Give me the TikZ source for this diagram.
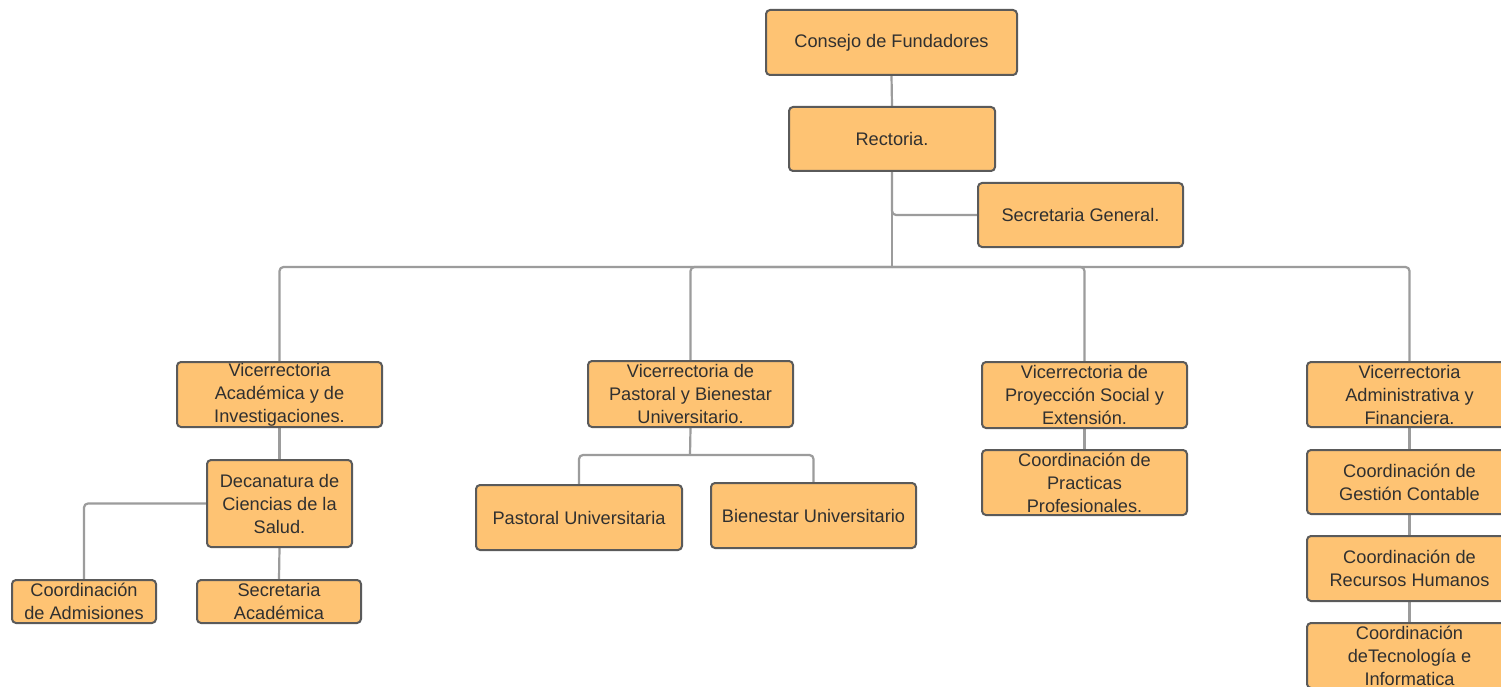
\documentclass[tikz,border=0pt]{standalone}
\usepackage{fontspec}
\setmainfont{Liberation Sans}
\usetikzlibrary{backgrounds}
\definecolor{boxfill}{HTML}{FEC373}
\definecolor{boxline}{HTML}{5A5A5A}
\definecolor{connline}{HTML}{9C9C9C}
\definecolor{txt}{HTML}{303030}
\begin{document}
\begin{tikzpicture}[x=1pt,y=-1pt,
  box/.style={draw=boxline, fill=boxfill, line width=2pt, rounded corners=4pt,
    rectangle, inner sep=0pt, align=center, text=txt,
    font=\fontsize{18.2}{23}\selectfont, minimum width=205, minimum height=65},
  conn/.style={draw=connline, line width=2.2pt, rounded corners=4pt}]
\useasboundingbox (0,0) rectangle (1501,687);
% coordinates
\coordinate (hub) at (892,267);
\coordinate (ph) at (690,455);
% nodes
\node[box, minimum width=251] (consejo) at (891.5,42.5) {Consejo de Fundadores};
\node[box, minimum width=206, minimum height=64] (rect) at (892,139) {Rectoria.};
\node[box, minimum height=64] (secgen) at (1080.5,215) {Secretaria General.};
\node[box] (vra) at (279.5,394.5) {Vicerrectoria\\Académica y de\\Investigaciones.};
\node[box, minimum height=66] (vrp) at (690.5,394) {Vicerrectoria de\\Pastoral y Bienestar\\Universitario.};
\node[box, minimum height=66] (vrproy) at (1084.5,395) {Vicerrectoria de\\Proyección Social y\\Extensión.};
\node[box] (vradm) at (1409.5,394.5) {Vicerrectoria\\Administrativa y\\Financiera.};
\node[box, minimum width=145, minimum height=87] (dec) at (279.5,503.5) {Decanatura de\\Ciencias de la\\Salud.};
\node[box, minimum width=144, minimum height=43] (cadm) at (84,601.5) {Coordinación\\de Admisiones};
\node[box, minimum width=164, minimum height=43] (secac) at (279,601.5) {Secretaria\\Académica};
\node[box, minimum width=206] (pastu) at (579,517.5) {Pastoral Universitaria};
\node[box] (bienu) at (813.5,515.5) {Bienestar Universitario};
\node[box] (cpp) at (1084.5,482.5) {Coordinación de\\Practicas\\Profesionales.};
\node[box, minimum height=64] (cgc) at (1409.5,482) {Coordinación de\\Gestión Contable};
\node[box] (crh) at (1409.5,568.5) {Coordinación de\\Recursos Humanos};
\node[box] (ctec) at (1409.5,655.5) {Coordinación\\deTecnología e\\Informatica};
% connectors (behind boxes)
\begin{pgfonlayer}{background}
\fill[white] (0,0) rectangle (1501,687);
\draw[conn] (consejo.south) -- (rect.north);
\draw[conn] (rect.south) -- (hub);
\draw[conn] (rect.south) |- (secgen.west);
\draw[conn] (vra.north) |- (hub) -| (vradm.north);
\draw[conn] (hub) -| (vrp.north);
\draw[conn] (hub) -| (vrproy.north);
\draw[conn] (vra.south) -- (dec.north);
\draw[conn] (dec.west) -| (cadm.north);
\draw[conn] (dec.south) -- (secac.north);
\draw[conn] (vrp.south) -- (ph);
\draw[conn] (ph) -| (pastu.north);
\draw[conn] (ph) -| (bienu.north);
\draw[conn] (vrproy.south) -- (cpp.north);
\draw[conn] (vradm.south) -- (cgc.north);
\draw[conn] (cgc.south) -- (crh.north);
\draw[conn] (crh.south) -- (ctec.north);
\end{pgfonlayer}
\end{tikzpicture}
\end{document}
